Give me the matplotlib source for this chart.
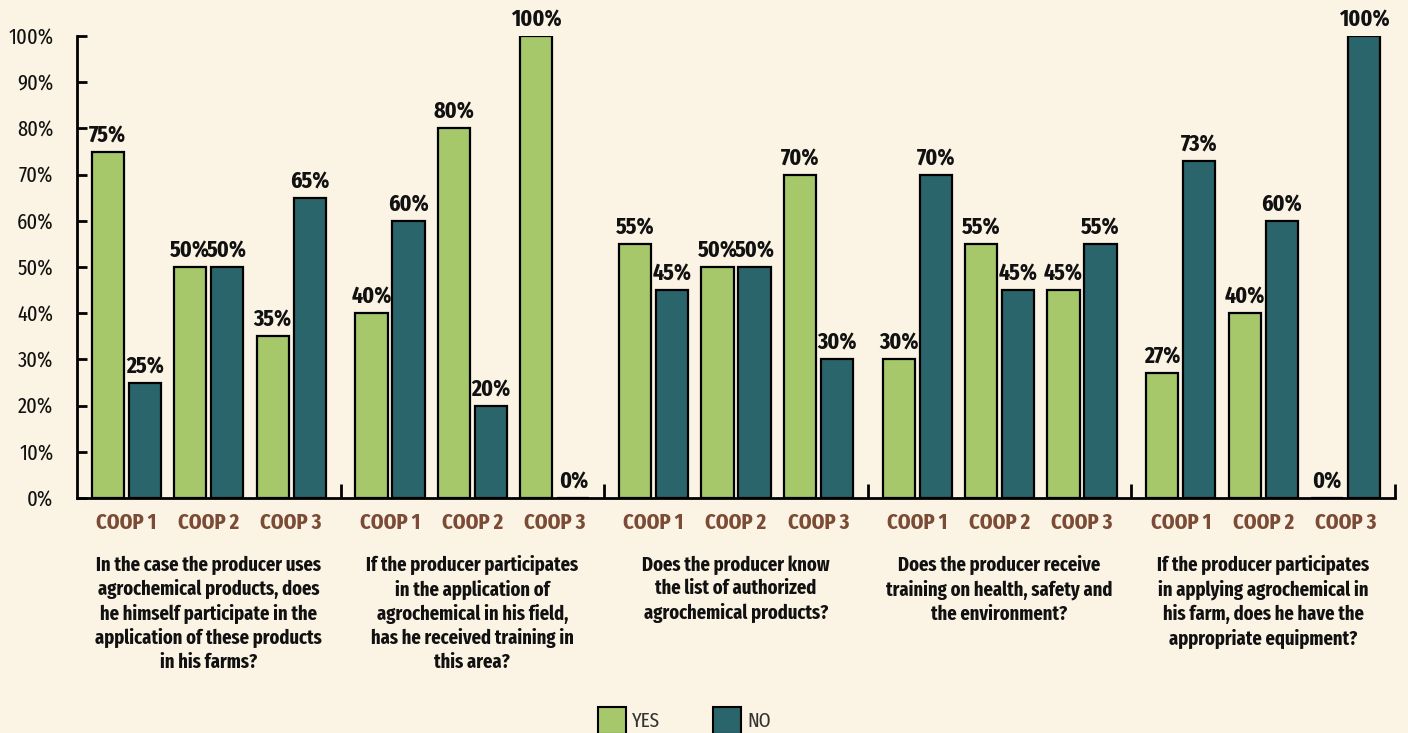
import matplotlib.pyplot as plt
from matplotlib.patches import Patch

plt.rcParams['font.family'] = ['Fira Sans Extra Condensed', 'Liberation Sans Narrow', 'DejaVu Sans']

questions = [
    "In the case the producer uses\nagrochemical products, does\nhe himself participate in the\napplication of these products\nin his farms?",
    "If the producer participates\nin the application of\nagrochemical in his field,\nhas he received training in\nthis area?",
    "Does the producer know\nthe list of authorized\nagrochemical products?",
    "Does the producer receive\ntraining on health, safety and\nthe environment?",
    "If the producer participates\nin applying agrochemical in\nhis farm, does he have the\nappropriate equipment?",
]
coops = ["COOP 1", "COOP 2", "COOP 3"]

# one row per question, one value per coop
yes = [
    [75, 50, 35],
    [40, 80, 100],
    [55, 50, 70],
    [30, 55, 45],
    [27, 40, 0],
]
no = [
    [25, 50, 65],
    [60, 20, 0],
    [45, 50, 30],
    [70, 45, 55],
    [73, 60, 100],
]

green = "#a6c86b"
teal = "#2b656c"
bg = "#fbf3e3"
brown = "#7b4b35"
ink = "#111111"

fig = plt.figure(figsize=(14.08, 7.33), dpi=100, facecolor=bg)
ax = fig.add_axes([77/1408, 1-498/733, (1395-77)/1408, (498-36)/733])
ax.set_facecolor(bg)

group_w = 3.2
bw = 0.39
off = 0.225

for g in range(len(questions)):
    for c in range(len(coops)):
        x = 0.6 + group_w*g + c
        for val, dx, col in [(yes[g][c], -off, green), (no[g][c], off, teal)]:
            ax.bar(x+dx, val, width=bw, color=col, edgecolor="black", linewidth=1.6, zorder=3)
            ax.text(x+dx, val+1.0, f"{val}%", ha="center", va="bottom",
                    fontsize=17, fontweight="bold", color=ink, clip_on=False)
        ax.text(x, -6.7, coops[c], ha="center", va="baseline", fontsize=16,
                fontweight="bold", color=brown)
    ax.text(0.6 + group_w*g + 1, -12.4, questions[g], ha="center", va="top",
            fontsize=14.5, fontweight="bold", color=ink, linespacing=1.27)

ax.set_xlim(0, group_w*len(questions))
ax.set_ylim(0, 100)
ax.set_yticks(range(0, 101, 10))
ax.set_yticklabels([f"{v}%" for v in range(0, 101, 10)], fontsize=16, color=ink)
ax.set_xticks([group_w*k for k in range(1, len(questions)+1)])
ax.set_xticklabels([])
ax.tick_params(axis="y", direction="in", length=7, width=2, pad=17)
ax.tick_params(axis="x", direction="in", length=10, width=2)

for s in ["top", "right"]:
    ax.spines[s].set_visible(False)
for s in ["left", "bottom"]:
    ax.spines[s].set_linewidth(2)

handles = [Patch(facecolor=green, edgecolor="black", linewidth=1.5, label="YES"),
           Patch(facecolor=teal, edgecolor="black", linewidth=1.5, label="NO")]
fig.legend(handles=handles, loc="upper center", bbox_to_anchor=(0.486, 1-707/733),
           ncol=2, frameon=False, fontsize=15, handlelength=1.35, handleheight=1.6,
           columnspacing=2.5, handletextpad=0.3, borderpad=0, borderaxespad=0,
           labelcolor="#333333")

fig.savefig("out.png", dpi=100, facecolor=bg)
